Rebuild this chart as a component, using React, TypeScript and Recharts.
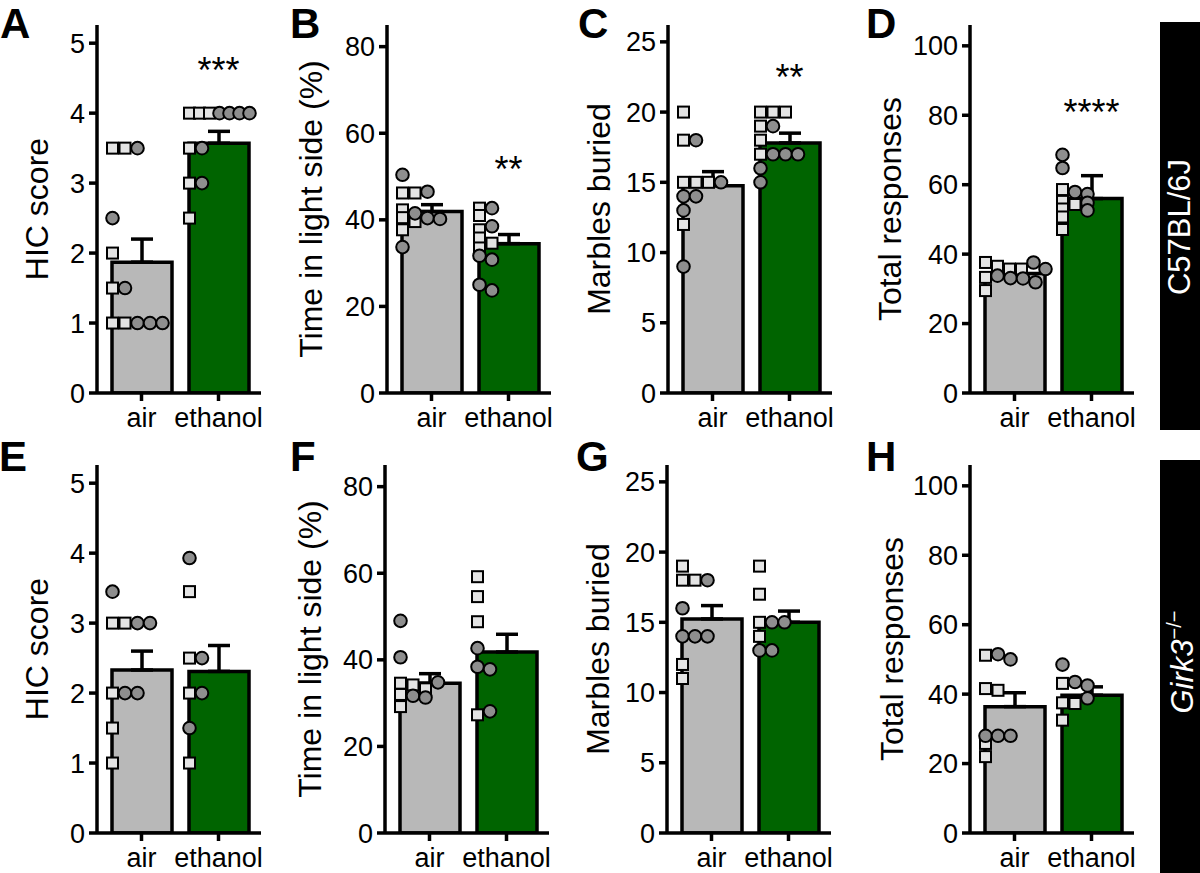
import React from "react";
import { ComposedChart, Bar, Cell, Scatter, XAxis, YAxis, ErrorBar, ReferenceDot } from "recharts";

const FONT = '"Liberation Sans", Arial, Helvetica, sans-serif';
const AIR = "#b8b8b8";
const ETH = "#006400";
const SQ_FILL = "#e4e4e4";
const CI_FILL = "#8e8e8e";

const groups = ["air", "ethanol"];

// C57BL/6J row
const hicB6Mean = [1.87, 3.57];
const hicB6Sem = [0.33, 0.17];
const hicB6AirSq = [3.5, 3.5, 2, 1.5, 1, 1];
const hicB6AirCi = [3.5, 2.5, 1.5, 1, 1, 1];
const hicB6EthSq = [4, 4, 4, 3.5, 3, 2.5];
const hicB6EthCi = [4, 4, 4, 4, 3.5, 3];

const ldB6Mean = [41.9, 34.5];
const ldB6Sem = [1.6, 2.1];
const ldB6AirSq = [46.2, 46.2, 42.3, 40.5, 39.6, 37.7];
const ldB6AirCi = [50.4, 46.5, 41.5, 40.4, 40.2, 33.7];
const ldB6EthSq = [42.7, 41, 37.7, 35.8, 34.6, 33.5];
const ldB6EthCi = [42.7, 38.5, 31.7, 30.8, 25, 23.7];

const mbB6Mean = [14.76, 17.8];
const mbB6Sem = [1.0, 0.7];
const mbB6AirSq = [20, 18, 15, 15, 15, 12];
const mbB6AirCi = [18, 15, 14, 14, 13, 9];
const mbB6EthSq = [20, 20, 20, 19, 18, 17];
const mbB6EthCi = [19, 17, 17, 17, 16, 15];

const respB6Mean = [34.4, 56.0];
const respB6Sem = [2.5, 6.6];
const respB6AirSq = [37.6, 36.5, 35.7, 35.7, 33.3, 29.5];
const respB6AirCi = [37.6, 35.7, 33.8, 33.1, 33, 31.9];
const respB6EthSq = [58.6, 55.2, 54.3, 53, 50.7, 47.1];
const respB6EthCi = [68.6, 64.8, 57.9, 57.3, 54.8, 52.6];

// Girk3-/- row
const hicKoMean = [2.33, 2.31];
const hicKoSem = [0.27, 0.37];
const hicKoAirSq = [3, 3, 2, 1.5, 1];
const hicKoAirCi = [3.45, 3, 3, 2, 2];
const hicKoEthSq = [3.45, 2.5, 2, 1];
const hicKoEthCi = [3.93, 2.5, 2, 1.5];

const ldKoMean = [34.6, 41.8];
const ldKoSem = [2.2, 4.1];
const ldKoAirSq = [34.6, 34.2, 33.3, 32, 29.2];
const ldKoAirCi = [49, 40.6, 34.8, 31.7, 31.3];
const ldKoEthSq = [59.2, 54.6, 48.8, 27.3];
const ldKoEthCi = [42.7, 38.4, 37.8, 28.1];

const mbKoMean = [15.24, 15.0];
const mbKoSem = [0.95, 0.8];
const mbKoAirSq = [19, 18, 18, 12, 11];
const mbKoAirCi = [18, 16, 14, 14, 14];
const mbKoEthSq = [19, 17, 15, 14];
const mbKoEthCi = [15, 15, 13, 13];

const respKoMean = [36.4, 39.7];
const respKoSem = [4.0, 2.4];
const respKoAirSq = [51.2, 41.6, 41.1, 25.8, 22];
const respKoAirCi = [51.5, 50, 28, 28, 28];
const respKoEthSq = [43.1, 37.5, 37.3, 32.5];
const respKoEthCi = [48.5, 43.5, 42.5, 38.8];

const hicTicks = [0, 1, 2, 3, 4, 5];
const ldTicks = [0, 20, 40, 60, 80];
const mbTicks = [0, 5, 10, 15, 20, 25];
const respTicks = [0, 20, 40, 60, 80, 100];

type PanelDef = {
  letter: string;
  yLabel: string;
  yMax: number;
  ticks: number[];
  mean: number[];
  sem: number[];
  airSq: number[];
  airCi: number[];
  ethSq: number[];
  ethCi: number[];
  stars?: string;
  starAt?: number;
};

const panels: PanelDef[] = [
  { letter: "A", yLabel: "HIC score", yMax: 5.26, ticks: hicTicks, mean: hicB6Mean, sem: hicB6Sem, airSq: hicB6AirSq, airCi: hicB6AirCi, ethSq: hicB6EthSq, ethCi: hicB6EthCi, stars: "***", starAt: 4.62 },
  { letter: "B", yLabel: "Time in light side (%)", yMax: 85, ticks: ldTicks, mean: ldB6Mean, sem: ldB6Sem, airSq: ldB6AirSq, airCi: ldB6AirCi, ethSq: ldB6EthSq, ethCi: ldB6EthCi, stars: "**", starAt: 51.8 },
  { letter: "C", yLabel: "Marbles buried", yMax: 26.2, ticks: mbTicks, mean: mbB6Mean, sem: mbB6Sem, airSq: mbB6AirSq, airCi: mbB6AirCi, ethSq: mbB6EthSq, ethCi: mbB6EthCi, stars: "**", starAt: 22.5 },
  { letter: "D", yLabel: "Total responses", yMax: 106, ticks: respTicks, mean: respB6Mean, sem: respB6Sem, airSq: respB6AirSq, airCi: respB6AirCi, ethSq: respB6EthSq, ethCi: respB6EthCi, stars: "****", starAt: 80.8 },
  { letter: "E", yLabel: "HIC score", yMax: 5.26, ticks: hicTicks, mean: hicKoMean, sem: hicKoSem, airSq: hicKoAirSq, airCi: hicKoAirCi, ethSq: hicKoEthSq, ethCi: hicKoEthCi },
  { letter: "F", yLabel: "Time in light side (%)", yMax: 85, ticks: ldTicks, mean: ldKoMean, sem: ldKoSem, airSq: ldKoAirSq, airCi: ldKoAirCi, ethSq: ldKoEthSq, ethCi: ldKoEthCi },
  { letter: "G", yLabel: "Marbles buried", yMax: 26.2, ticks: mbTicks, mean: mbKoMean, sem: mbKoSem, airSq: mbKoAirSq, airCi: mbKoAirCi, ethSq: mbKoEthSq, ethCi: mbKoEthCi },
  { letter: "H", yLabel: "Total responses", yMax: 106, ticks: respTicks, mean: respKoMean, sem: respKoSem, airSq: respKoAirSq, airCi: respKoAirCi, ethSq: respKoEthSq, ethCi: respKoEthCi },
];

// where each panel sits on the page
const layout = [
  { axisX: 97, top: 0, labelDx: 60, letterX: 0 },
  { axisX: 387, top: 0, labelDx: 76, letterX: 290 },
  { axisX: 668, top: 0, labelDx: 69, letterX: 578 },
  { axisX: 970, top: 0, labelDx: 80, letterX: 866 },
  { axisX: 97, top: 440, labelDx: 60, letterX: -1 },
  { axisX: 385, top: 440, labelDx: 75, letterX: 290 },
  { axisX: 667, top: 440, labelDx: 69, letterX: 576 },
  { axisX: 970, top: 440, labelDx: 78, letterX: 866 },
];

const PLOT_H = 368;
const Y_AXIS_W = 97;
const STEP = 12.5;
const MIN_GAP = 7;
const MAX_SPAN = 60;

// simple left-aligned swarm, like Prism's scatter-on-bar
function swarm(sq: number[], ci: number[], pxPerUnit: number) {
  const pts = [...sq.map((v) => ({ v, kind: "sq" })), ...ci.map((v) => ({ v, kind: "ci" }))];
  const placed: { v: number; kind: string; slot: number }[] = [];
  for (const p of pts) {
    let slot = 0;
    while (placed.some((q) => q.slot === slot && Math.abs(q.v - p.v) * pxPerUnit < MIN_GAP)) slot++;
    placed.push({ ...p, slot });
  }
  return placed.map((p) => {
    const m = Math.max(...placed.filter((q) => Math.abs(q.v - p.v) * pxPerUnit < MIN_GAP).map((q) => q.slot));
    const step = m * STEP > MAX_SPAN ? MAX_SPAN / m : STEP;
    return { ...p, off: p.slot * step };
  });
}

const renderPoint = (p: any) => {
  const { cx, cy, payload } = p;
  if (cx == null || cy == null) return <g />;
  const x = cx - 29 + payload.off;
  if (payload.kind === "sq") {
    return <rect x={x - 5.5} y={cy - 5.5} width={11} height={11} fill={SQ_FILL} stroke="#000" strokeWidth={2} />;
  }
  return <circle cx={x} cy={cy} r={6.3} fill={CI_FILL} stroke="#000" strokeWidth={2} />;
};

function Panel({ def, pos }: { def: PanelDef; pos: (typeof layout)[number] }) {
  const barData = groups.map((g, i) => ({ name: g, mean: def.mean[i], err: [0, def.sem[i]] }));
  const pxPerUnit = PLOT_H / def.yMax;
  const pts = [
    ...swarm(def.airSq, def.airCi, pxPerUnit).map((p) => ({ ...p, name: "air" })),
    ...swarm(def.ethSq, def.ethCi, pxPerUnit).map((p) => ({ ...p, name: "ethanol" })),
  ];
  const axisStyle = { stroke: "#000", strokeWidth: 3.5 };
  const tickStyle = { fill: "#000", fontSize: 27, fontFamily: FONT };

  return (
    <div style={{ position: "absolute", left: pos.axisX - Y_AXIS_W, top: pos.top }}>
      <ComposedChart width={Y_AXIS_W + 164 + 6} height={433} data={barData} margin={{ top: 25, right: 6, bottom: 0, left: 0 }}>
        <XAxis
          dataKey="name"
          type="category"
          allowDuplicatedCategory={false}
          interval={0}
          padding={{ left: 6, right: 4 }}
          height={40}
          tickSize={8}
          tickMargin={7}
          axisLine={axisStyle}
          tickLine={axisStyle}
          tick={tickStyle}
        />
        <YAxis
          type="number"
          domain={[0, def.yMax]}
          ticks={def.ticks}
          allowDataOverflow
          width={Y_AXIS_W}
          tickSize={8}
          tickMargin={4}
          axisLine={axisStyle}
          tickLine={axisStyle}
          tick={tickStyle}
          label={(props: any) => {
            const vb = props.viewBox;
            const x = vb.x + vb.width - pos.labelDx;
            const y = vb.y + vb.height / 2;
            return (
              <text
                x={x}
                y={y}
                transform={`rotate(-90 ${x} ${y})`}
                textAnchor="middle"
                dominantBaseline="central"
                fontSize={32}
                fontFamily={FONT}
                fill="#000"
              >
                {def.yLabel}
              </text>
            );
          }}
        />
        <Bar dataKey="mean" barSize={60} stroke="#000" strokeWidth={3.5} isAnimationActive={false}>
          {barData.map((d, i) => (
            <Cell key={d.name} fill={i === 0 ? AIR : ETH} />
          ))}
          <ErrorBar dataKey="err" direction="y" width={11} stroke="#000" strokeWidth={3.5} />
        </Bar>
        <Scatter data={pts} dataKey="v" shape={renderPoint} isAnimationActive={false} />
        {def.stars && (
          <ReferenceDot
            x="ethanol"
            y={def.starAt}
            r={0}
            fill="none"
            stroke="none"
            label={{ value: def.stars, position: "center", fontSize: 36, fontFamily: FONT, fill: "#000" }}
          />
        )}
      </ComposedChart>
    </div>
  );
}

export default function App() {
  return (
    <div
      style={{
        position: "absolute",
        left: 0,
        top: 0,
        width: 1200,
        height: 873,
        overflow: "hidden",
        background: "#fff",
        fontFamily: FONT,
      }}
    >
      {panels.map((def, i) => (
        <React.Fragment key={def.letter}>
          <Panel def={def} pos={layout[i]} />
          <div
            style={{
              position: "absolute",
              left: layout[i].letterX,
              top: layout[i].top === 0 ? 0 : 433,
              fontSize: 42,
              fontWeight: "bold",
              lineHeight: "normal",
              color: "#000",
            }}
          >
            {def.letter}
          </div>
        </React.Fragment>
      ))}

      <div style={{ position: "absolute", left: 1160, top: 22, width: 40, height: 408, background: "#000" }} />
      <div
        style={{
          position: "absolute",
          left: 1180,
          top: 227,
          transform: "translate(-50%, -50%) rotate(-90deg)",
          color: "#fff",
          fontSize: 31,
          whiteSpace: "nowrap",
        }}
      >
        C57BL/6J
      </div>

      <div style={{ position: "absolute", left: 1160, top: 460, width: 40, height: 413, background: "#000" }} />
      <div
        style={{
          position: "absolute",
          left: 1182,
          top: 662,
          transform: "translate(-50%, -50%) rotate(-90deg)",
          color: "#fff",
          fontSize: 31,
          whiteSpace: "nowrap",
        }}
      >
        <i>Girk3</i>
        <sup style={{ fontSize: 20 }}>−/−</sup>
      </div>
    </div>
  );
}
